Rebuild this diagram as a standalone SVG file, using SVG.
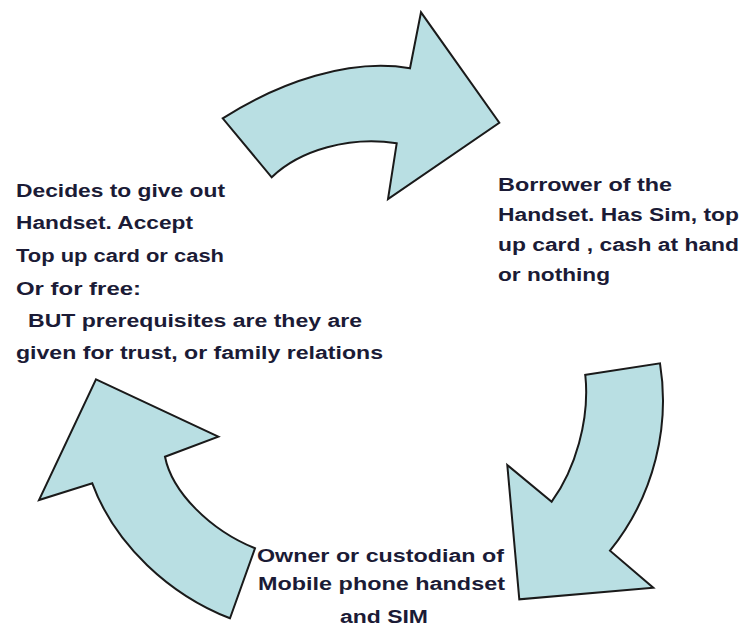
<svg xmlns="http://www.w3.org/2000/svg" width="744" height="628" viewBox="0 0 744 628">
<style>
.arrow{fill:#b9dfe3;stroke:#1a1a1a;stroke-width:2;stroke-linejoin:miter}
.lbl{font-family:"Liberation Sans",Arial,sans-serif;font-weight:bold;font-size:18px;fill:#1b1b36}
</style>
<rect width="744" height="628" fill="#ffffff"/>
<g id="connectors">
<path id="arrow-top" class="arrow" d="M222.7,118.3 C280,82 350,58 410,68.3 L421,12.3 L499.3,122.7 L388,199 L396.7,143.3 C350,136 300,150 271.7,177.3 Z"/>
<path id="arrow-right" class="arrow" d="M584.3,375 L660,363.3 C670,425 655,495 610,550.7 L653.3,587.7 L519.3,599.3 L507.3,465 L551.7,501.7 C575,470 590,420 585.3,375 Z"/>
<path id="arrow-left" class="arrow" d="M96,379.3 L218.3,436.7 L165,456.7 C172,492 210,530 255,548.3 L230,618.3 C170,595 115,545 92.3,483.3 L39,500 Z"/>
</g>
<g id="node-giver">
<text class="lbl" x="16" y="197" textLength="209" lengthAdjust="spacingAndGlyphs">Decides to give out</text>
<text class="lbl" x="16" y="229" textLength="177" lengthAdjust="spacingAndGlyphs">Handset. Accept</text>
<text class="lbl" x="16" y="262" textLength="208" lengthAdjust="spacingAndGlyphs">Top up card or cash</text>
<text class="lbl" x="16" y="294.5" textLength="125" lengthAdjust="spacingAndGlyphs">Or for free:</text>
<text class="lbl" x="28" y="326.5" textLength="334" lengthAdjust="spacingAndGlyphs">BUT prerequisites are they are</text>
<text class="lbl" x="16" y="358.5" textLength="367" lengthAdjust="spacingAndGlyphs">given for trust, or family relations</text>
</g>
<g id="node-borrower">
<text class="lbl" x="498" y="190.7" textLength="174" lengthAdjust="spacingAndGlyphs">Borrower of the</text>
<text class="lbl" x="498" y="220.7" textLength="241" lengthAdjust="spacingAndGlyphs">Handset. Has Sim, top</text>
<text class="lbl" x="498" y="250.7" textLength="241" lengthAdjust="spacingAndGlyphs">up card , cash at hand</text>
<text class="lbl" x="498" y="280.7" textLength="112" lengthAdjust="spacingAndGlyphs">or nothing</text>
</g>
<g id="node-owner">
<text class="lbl" x="257" y="562" textLength="247" lengthAdjust="spacingAndGlyphs">Owner or custodian of</text>
<text class="lbl" x="258" y="590" textLength="247" lengthAdjust="spacingAndGlyphs">Mobile phone handset</text>
<text class="lbl" x="340" y="623" textLength="88" lengthAdjust="spacingAndGlyphs">and SIM</text>
</g>
</svg>
